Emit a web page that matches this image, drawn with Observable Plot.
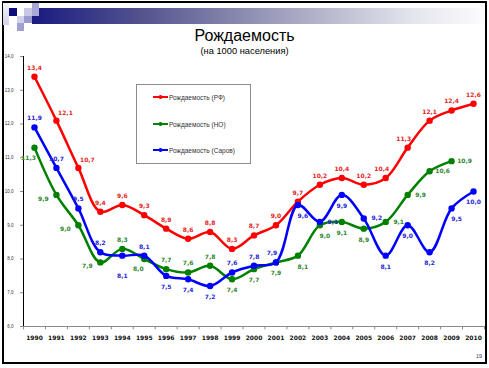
<!DOCTYPE html>
<html><head><meta charset="utf-8">
<script src="https://cdn.jsdelivr.net/npm/d3@7"></script>
<script src="https://cdn.jsdelivr.net/npm/@observablehq/plot@0.6"></script>
<style>
html,body{margin:0;padding:0;background:#fff;}
#page{position:relative;width:489px;height:368px;overflow:hidden;background:#fff;font-family:"Liberation Sans",Arial,sans-serif;}
#frame{position:absolute;left:2px;top:1px;width:485px;height:363px;box-sizing:border-box;border:2px solid #000;}
#bar{position:absolute;left:32px;top:8px;width:452px;height:15.5px;background:linear-gradient(to right,#1a1a80 0%,#55558f 25%,#a0a0bd 55%,#e6e6ee 85%,#fbfbfd 100%);}
.sq{position:absolute;}
#title{position:absolute;left:0;width:489px;top:27px;text-align:center;font-size:16px;line-height:18px;color:#000;}
#subtitle{position:absolute;left:0;width:489px;top:46px;text-align:center;font-size:9.3px;line-height:11px;color:#000;}
#chart{position:absolute;left:0;top:46px;}
#legend{position:absolute;left:136px;top:84px;width:115px;height:80px;box-sizing:border-box;border:1px solid #8c8c8c;background:#fff;}
.lrow{position:absolute;left:16px;height:8px;display:flex;align-items:center;font-size:6.5px;color:#333;white-space:nowrap;}
.lrow svg{margin-right:1px;}
#pagenum{position:absolute;left:476px;top:353px;font-size:5.5px;color:#336;}
#chart [aria-label^="x-axis"] text{font:bold 6px "DejaVu Sans",sans-serif;fill:#111;}
#chart [aria-label^="y-axis"]{color:#8a8a8a;}
#chart [aria-label^="y-axis"] text{font:4.5px "Liberation Sans",sans-serif;fill:#333;}
</style></head><body>
<div id="page">
  <div id="frame"></div>
  <div id="bar"></div>
  <div class="sq" style="left:3px;top:3px;width:5.5px;height:22px;background:linear-gradient(#f4f4fa,#d2d2ea);"></div>
  <div class="sq" style="left:8.5px;top:8.3px;width:8.3px;height:7.8px;background:#0c0c7c;"></div>
  <div class="sq" style="left:24px;top:8.3px;width:8px;height:7.8px;background:#c8c8e4;"></div>
  <div class="sq" style="left:31.7px;top:2.7px;width:7.6px;height:13.4px;background:#a8a8d4;"></div>
  <div class="sq" style="left:16.7px;top:16px;width:7.4px;height:7.4px;background:#d0d0ea;"></div>
  <div class="sq" style="left:24px;top:16px;width:7.7px;height:7.4px;background:#9a9ad0;"></div>
  <div class="sq" style="left:16.7px;top:23.3px;width:7.4px;height:7.4px;background:#a0a0d4;"></div>
  <div id="title">Рождаемость</div>
  <div id="subtitle">(на 1000 населения)</div>
  <div id="chart"></div>
  <div id="legend"></div>
  <div id="pagenum">19</div>
</div>
<script>
const years = [1990,1991,1992,1993,1994,1995,1996,1997,1998,1999,2000,2001,2002,2003,2004,2005,2006,2007,2008,2009,2010];
const rfValues = [13.4,12.1,10.7,9.4,9.6,9.3,8.9,8.6,8.8,8.3,8.7,9.0,9.7,10.2,10.4,10.2,10.4,11.3,12.1,12.4,12.6];
const noValues = [11.3,9.9,9.0,7.9,8.3,8.0,7.7,7.6,7.8,7.4,7.7,7.9,8.1,9.0,9.1,8.9,9.1,9.9,10.6,10.9];
const sarovValues = [11.9,10.7,9.5,8.2,8.1,8.1,7.5,7.4,7.2,7.6,7.8,7.9,9.6,9.1,9.9,9.2,8.1,9.0,8.2,9.5,10.0];
const seriesNames = ["Рождаемость (РФ)","Рождаемость (НО)","Рождаемость (Саров)"];
const yTickValues = [6,7,8,9,10,11,12,13,14];
// label placement codes per point
const rfLabelPos = ["t","tr","tr","t","t","t","t","t","t","t","t","t","t","t","t","t","tl","tl","t","t","t"];
const noLabelPos = ["bl","l","l","l","t","bl","t","t","t","b","b","b","br","br","b","b","r","r","r","r"];
const sarovLabelPos = ["t","t","t","t","bb","t","b","b","b","t","t","tl","br","r","b","r","b","b","b","br","b"];

const lineColors = ["#ff0000","#008000","#0000ff"];
const labelColors = ["#e52424","#2e862e","#2525d6"];
const offsets = {t:[0,-9],tl:[-4,-9],tr:[9,-8],b:[0,11],bb:[0,20],br:[5,11],bl:[-6,10],l:[-13,4],r:[13,0]};
const fmt = v => v.toFixed(1).replace(".", ",");

const seriesValues = [rfValues, noValues, sarovValues];
const seriesPos = [rfLabelPos, noLabelPos, sarovLabelPos];
const rows = seriesValues.map((vals, s) => vals.map((v, i) => ({year: years[i], value: v, series: s, pos: seriesPos[s][i]})));
const bounds = [years[0] - 0.5, ...years.map(y => y + 0.5)];

const marks = [
  Plot.ruleY([6], {stroke: "#8a8a8a"}),
  Plot.ruleX(bounds, {x: d => d, y1: 6, y2: 5.9, stroke: "#8a8a8a"})
];
rows.forEach((data, s) => {
  marks.push(Plot.line(data, {x: "year", y: "value", stroke: lineColors[s], strokeWidth: 2.5, curve: "catmull-rom"}));
  marks.push(Plot.dot(data, {x: "year", y: "value", fill: lineColors[s], r: 3.2}));
});
rows.forEach((data, s) => {
  Object.entries(offsets).forEach(([code, [dx, dy]]) => {
    const sub = data.filter(d => d.pos === code);
    if (sub.length) marks.push(Plot.text(sub, {
      x: "year", y: "value", text: d => fmt(d.value), dx, dy,
      fill: labelColors[s], fontSize: 6, fontWeight: "bold", fontFamily: "DejaVu Sans, sans-serif"
    }));
  });
});

const chart = Plot.plot({
  width: 489, height: 322,
  marginLeft: 23, marginRight: 5, marginTop: 10, marginBottom: 42,
  style: {background: "transparent", overflow: "visible", fontFamily: "DejaVu Sans, sans-serif"},
  x: {type: "linear", domain: [1989.5, 2010.5], ticks: years, tickFormat: d => String(d), tickSize: 0, tickPadding: 9, label: null},
  y: {domain: [6, 14], ticks: yTickValues, tickFormat: fmt, tickSize: 3, tickPadding: 7, line: true, label: null},
  marks
});
document.getElementById("chart").appendChild(chart);

const legend = document.getElementById("legend");
const rowTops = [8, 35, 61];
seriesNames.forEach((name, s) => {
  const r = document.createElement("div");
  r.className = "lrow";
  r.style.top = rowTops[s] + "px";
  r.innerHTML = `<svg width="15" height="6"><line x1="0" y1="3" x2="15" y2="3" stroke="${lineColors[s]}" stroke-width="2"/><circle cx="7.5" cy="3" r="2" fill="${lineColors[s]}"/></svg>`;
  const t = document.createElement("span");
  t.textContent = name;
  r.appendChild(t);
  legend.appendChild(r);
});
</script>
</body></html>
